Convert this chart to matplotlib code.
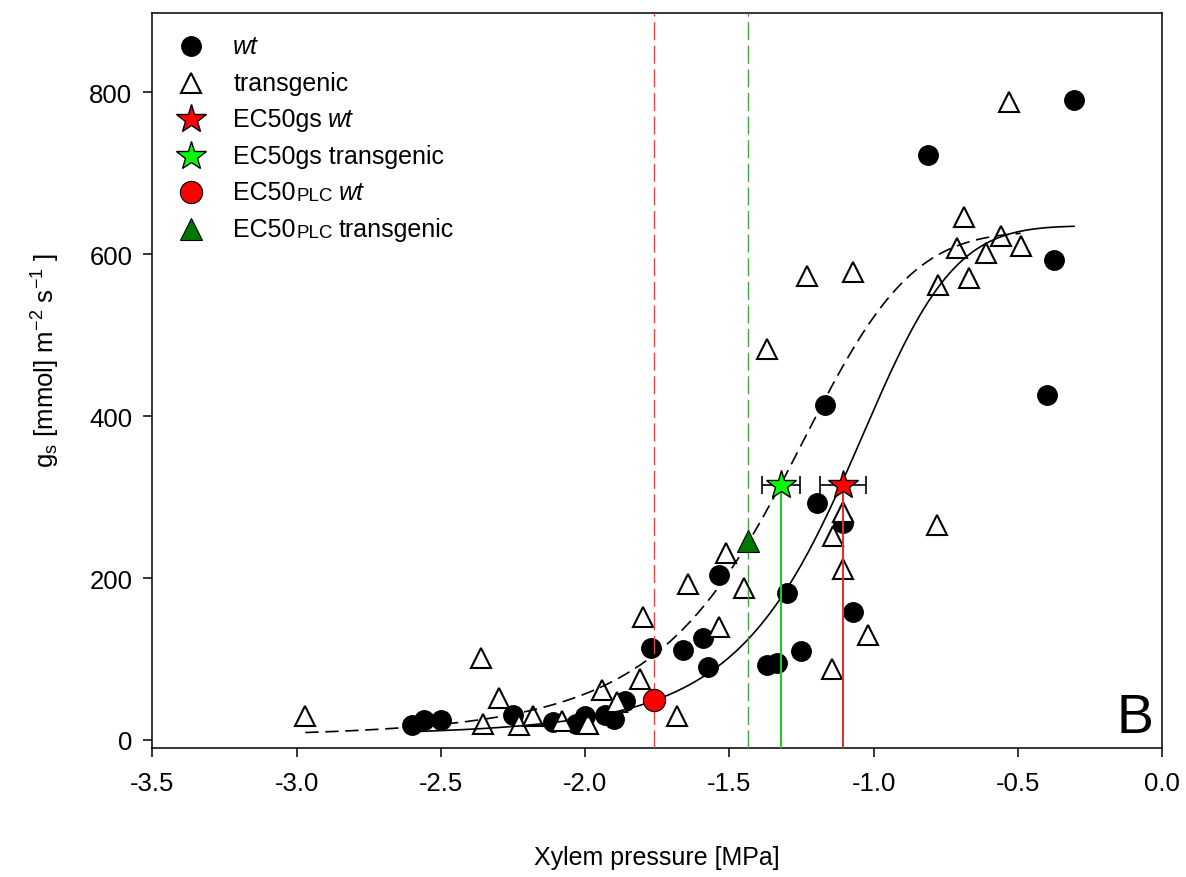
import numpy as np
import matplotlib
matplotlib.use('Agg')
import matplotlib.pyplot as plt

plt.rcParams['font.family'] = ['Liberation Sans', 'DejaVu Sans']
plt.rcParams['mathtext.fontset'] = 'custom'
plt.rcParams['mathtext.rm'] = 'Liberation Sans'
plt.rcParams['mathtext.it'] = 'Liberation Sans:italic'

# wt measurements (xylem pressure MPa, gs)
wt_x = [-2.60, -2.56, -2.50, -2.25, -2.11, -2.03, -2.00, -1.93, -1.90, -1.86,
        -1.77, -1.66, -1.59, -1.575, -1.535, -1.37, -1.335, -1.30, -1.25, -1.195,
        -1.17, -1.105, -1.07, -0.81, -0.40, -0.375, -0.305]
wt_y = [19, 25, 25, 31, 22, 20, 30, 31, 26, 48,
        113, 111, 126, 90, 204, 92, 95, 182, 110, 293,
        414, 268, 158, 723, 426, 593, 790]

# transgenic measurements
tg_x = [-2.97, -2.36, -2.30, -2.355, -2.23, -2.18, -2.08, -1.99, -1.94, -1.89,
        -1.81, -1.80, -1.68, -1.645, -1.535, -1.51, -1.45, -1.37, -1.23, -1.145,
        -1.14, -1.105, -1.105, -1.07, -1.02, -0.78, -0.775, -0.71, -0.685, -0.67,
        -0.61, -0.56, -0.53, -0.49]
tg_y = [29, 101, 52, 20, 19, 30, 24, 20, 62, 47,
        75, 152, 29, 193, 139, 231, 188, 483, 573, 88,
        252, 282, 211, 578, 130, 265, 562, 608, 646, 571,
        602, 623, 788, 610]

# EC50 values
ec50gs_wt = -1.105
ec50gs_wt_err = 0.08
ec50gs_tg = -1.321
ec50gs_tg_err = 0.065
ec50gs_y = 315
ec50plc_wt = -1.76
ec50plc_wt_y = 49
ec50plc_tg = -1.434
ec50plc_tg_y = 246

# sigmoid fit parameters (y0, a, x50, slope)
wt_fit = (5, 630, 1.107, 5.6)
tg_fit = (3, 625, 1.322, 5.7)


def sigmoid(x, y0, a, x50, p):
    return y0 + a / (1 + (np.abs(x) / x50) ** p)


fig = plt.figure(figsize=(11.86, 8.78), dpi=100)
ax = fig.add_axes([0.1285, 0.1469, 0.8513, 0.8371])

ax.plot(wt_x, wt_y, 'o', color='black', ms=14, zorder=2)
ax.plot(tg_x, tg_y, '^', mfc='white', mec='black', mew=1.5, ms=14, zorder=2)

xs = np.linspace(min(wt_x), max(wt_x), 300)
ax.plot(xs, sigmoid(xs, *wt_fit), color='black', lw=1.2, zorder=3)
xs = np.linspace(min(tg_x), max(tg_x), 300)
ax.plot(xs, sigmoid(xs, *tg_fit), color='black', lw=1.2, ls=(0, (8, 4)), zorder=3)

ymin = -10
ax.axvline(ec50plc_wt, color='#e04848', lw=1.0, ls=(0, (13, 4)), zorder=3)
ax.axvline(ec50plc_tg, color='#48a048', lw=1.0, ls=(0, (13, 4)), zorder=3)
ax.vlines(ec50gs_tg, ymin, ec50gs_y, color='#22cc22', lw=1.5, zorder=3)
ax.vlines(ec50gs_wt, ymin, ec50gs_y, color='#e03030', lw=1.5, zorder=3)

ax.errorbar(ec50gs_tg, ec50gs_y, xerr=ec50gs_tg_err, fmt='none', ecolor='black',
            elinewidth=1.2, capsize=6.5, capthick=1.2, zorder=4)
ax.errorbar(ec50gs_wt, ec50gs_y, xerr=ec50gs_wt_err, fmt='none', ecolor='black',
            elinewidth=1.2, capsize=6.5, capthick=1.2, zorder=4)
ax.plot(ec50gs_tg, ec50gs_y, '*', color='#00ff00', mec='black', mew=1.0, ms=22, zorder=5)
ax.plot(ec50gs_wt, ec50gs_y, '*', color='#ff0000', mec='black', mew=1.0, ms=22, zorder=5)
ax.plot(ec50plc_wt, ec50plc_wt_y, 'o', color='#ff0000', mec='black', mew=0.8, ms=16, zorder=5)
ax.plot(ec50plc_tg, ec50plc_tg_y, '^', color='#007700', mec='black', mew=0.8, ms=16, zorder=5)

ax.set_xlim(-3.5, 0)
ax.set_ylim(ymin, 898)
ax.set_xticks(np.arange(-3.5, 0.01, 0.5))
ax.set_xticklabels(['%.1f' % v for v in np.arange(-3.5, 0.01, 0.5)])
ax.set_yticks([0, 200, 400, 600, 800])
ax.tick_params(axis='x', direction='out', length=6.5, width=1.1, labelsize=18.5, pad=10)
ax.tick_params(axis='y', direction='out', length=6.5, width=1.1, labelsize=18.5, pad=8)
for s in ax.spines.values():
    s.set_linewidth(1.1)

ax.set_xlabel('Xylem pressure [MPa]', fontsize=18, labelpad=36)
ax.set_ylabel(r'g$_{\mathrm{s}}$ [mmol] m$^{\mathrm{-2}}$ s$^{\mathrm{-1}}$ ]', fontsize=18.5)
ax.yaxis.set_label_coords(-0.09, 0.528)

ax.text(0.991, 0.022, 'B', transform=ax.transAxes, fontsize=40, ha='right', va='baseline')

# legend drawn by hand (mixed italic / small caps text)
rows = [
    (dict(marker='o', color='black', ms=14), [('wt', 'italic', 18)]),
    (dict(marker='^', mfc='white', mec='black', mew=1.5, ms=14), [('transgenic', 'normal', 18)]),
    (dict(marker='*', color='#ff0000', mec='black', mew=1.0, ms=22),
     [('EC50gs', 'normal', 18), ('wt', 'italic', 18)]),
    (dict(marker='*', color='#00ff00', mec='black', mew=1.0, ms=22), [('EC50gs transgenic', 'normal', 18)]),
    (dict(marker='o', color='#ff0000', mec='black', mew=0.8, ms=16),
     [('EC50', 'normal', 18), ('PLC', 'normal', 13.5), ('wt', 'italic', 18)]),
    (dict(marker='^', color='#007700', mec='black', mew=0.8, ms=16),
     [('EC50', 'normal', 18), ('PLC', 'normal', 13.5), ('transgenic', 'normal', 18)]),
]
y = 0.955
for mk, parts in rows:
    ax.plot(0.0386, y, transform=ax.transAxes, clip_on=False, ls='none', zorder=6, **mk)
    prev = None
    for i, (txt, style, size) in enumerate(parts):
        if prev is None:
            prev = ax.text(0.080, y, txt, transform=ax.transAxes, fontsize=size,
                           style=style, va='center', ha='left')
        else:
            gap = 0.5 if size < 18 else 4.5
            prev = ax.annotate(txt, xy=(1, 0), xycoords=prev, xytext=(gap, 0),
                               textcoords='offset points', fontsize=size, style=style,
                               va='bottom', ha='left')
    y -= 0.0497

fig.savefig('out.png', dpi=100)
